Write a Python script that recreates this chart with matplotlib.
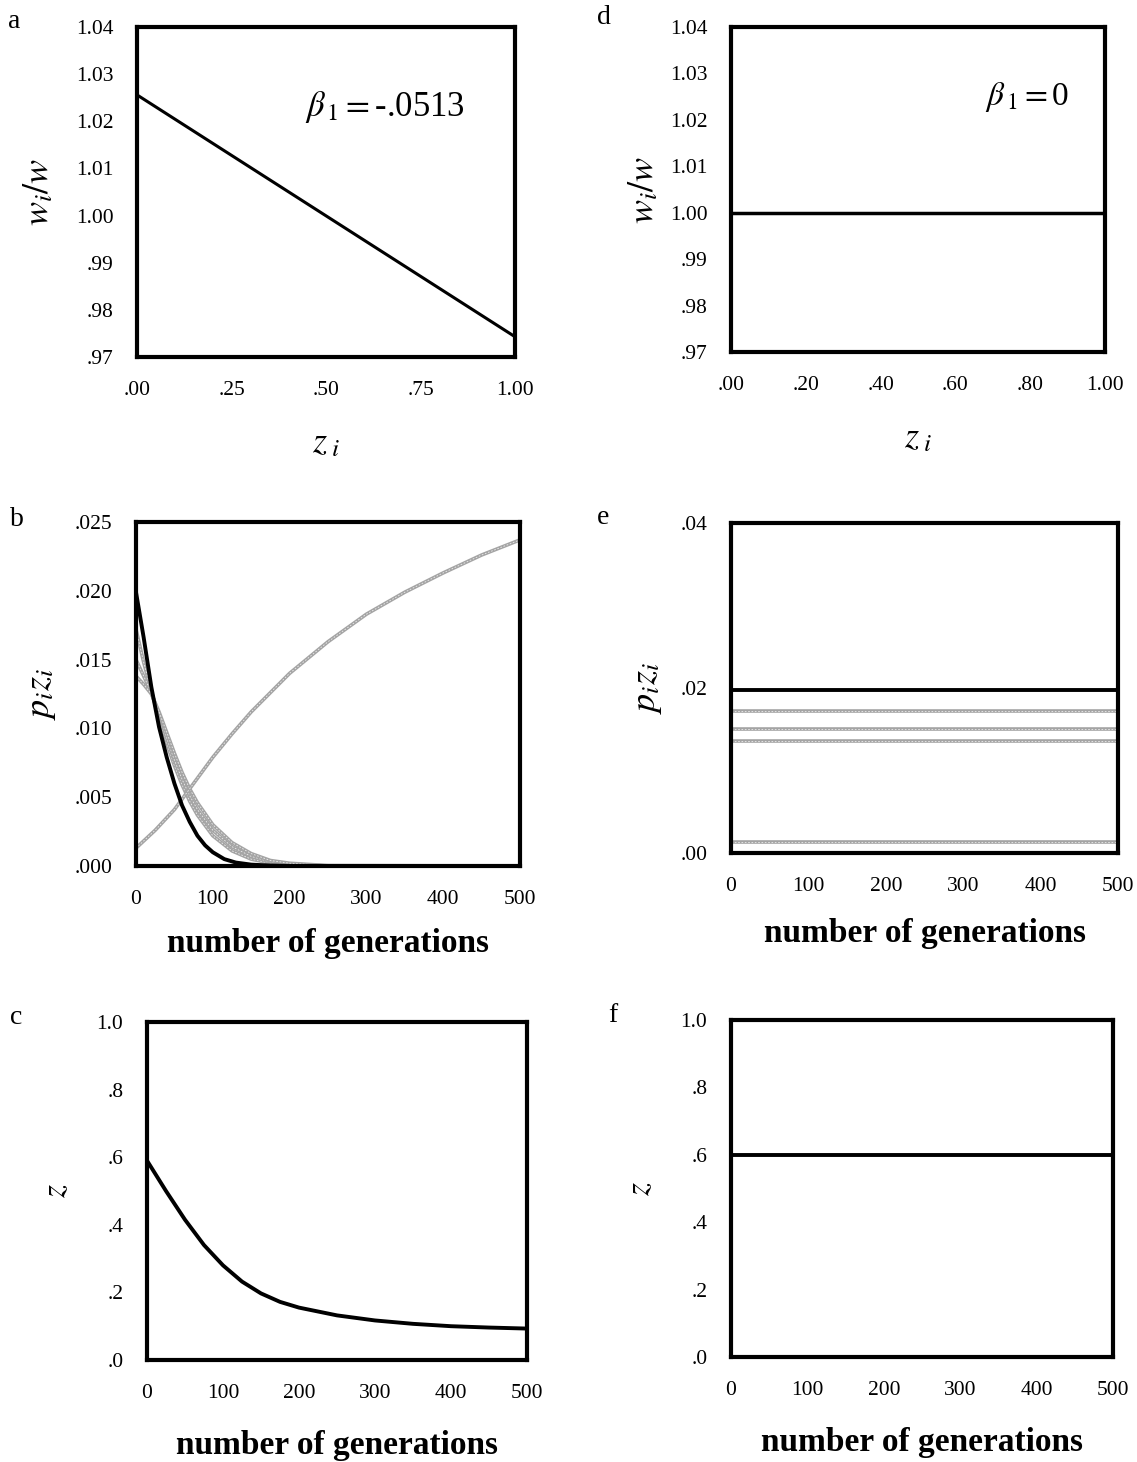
import matplotlib
matplotlib.use("Agg")
import matplotlib.pyplot as plt

plt.rcParams['font.family'] = ['Liberation Serif', 'DejaVu Serif']
plt.rcParams['mathtext.fontset'] = 'stix'

W, H = 1137, 1462

# panel a / d : relative fitness vs z_i
a_z = [0.0, 1.0]
a_w = [1.0256, 0.9743]
d_z = [0.0, 1.0]
d_w = [1.0, 1.0]
w_ticks = [0.97, 0.98, 0.99, 1.00, 1.01, 1.02, 1.03, 1.04]
w_labels = ['.97', '.98', '.99', '1.00', '1.01', '1.02', '1.03', '1.04']
a_xticks = [0.0, 0.25, 0.5, 0.75, 1.0]
a_xlabels = ['.00', '.25', '.50', '.75', '1.00']
d_xticks = [0.0, 0.2, 0.4, 0.6, 0.8, 1.0]
d_xlabels = ['.00', '.20', '.40', '.60', '.80', '1.00']

# panel b : p_i z_i over generations
b_gen_black = [0, 10, 20, 30, 40, 50, 60, 70, 80, 90, 100, 115, 130, 150, 175, 200, 500]
b_black = [0.0199, 0.0166, 0.0130, 0.0101, 0.0079, 0.0060, 0.0044, 0.0032, 0.0022, 0.0015, 0.0010,
           0.0005, 0.00025, 0.0001, 0.00003, 0.0, 0.0]
b_gen = [0, 10, 20, 30, 40, 50, 60, 70, 80, 100, 125, 150, 175, 200, 250, 500]
b_grey1 = [0.0172, 0.0148, 0.0127, 0.0107, 0.0089, 0.0073, 0.0059, 0.0047, 0.0037, 0.0022,
           0.0011, 0.0005, 0.0002, 0.0001, 0.0, 0.0]
b_grey2 = [0.0150, 0.0138, 0.0126, 0.0110, 0.0093, 0.0077, 0.0063, 0.0051, 0.0041, 0.0026,
           0.0014, 0.0007, 0.0003, 0.00015, 0.0, 0.0]
b_grey3 = [0.0138, 0.0132, 0.0125, 0.0112, 0.0097, 0.0082, 0.0068, 0.0056, 0.0046, 0.0030,
           0.0017, 0.0009, 0.0004, 0.0002, 0.00003, 0.0]
b_gen_up = [0, 25, 50, 75, 100, 125, 150, 200, 250, 300, 350, 400, 450, 500]
b_up = [0.0013, 0.0026, 0.0041, 0.0060, 0.0079, 0.0096, 0.0112, 0.0140, 0.0163, 0.0183,
        0.0199, 0.0213, 0.0226, 0.0237]
b_yticks = [0.0, 0.005, 0.010, 0.015, 0.020, 0.025]
b_ylabels = ['.000', '.005', '.010', '.015', '.020', '.025']

# panel e : constant p_i z_i
e_black = 0.0198
e_grey = [0.0172, 0.0150, 0.0136, 0.0013]
e_yticks = [0.0, 0.02, 0.04]
e_ylabels = ['.00', '.02', '.04']

# panel c / f : mean z
c_gen = [0, 25, 50, 75, 100, 125, 150, 175, 200, 250, 300, 350, 400, 450, 500]
c_z = [0.59, 0.50, 0.415, 0.34, 0.28, 0.232, 0.197, 0.172, 0.155, 0.132, 0.117, 0.107,
       0.100, 0.096, 0.093]
f_z = 0.60
z_yticks = [0.0, 0.2, 0.4, 0.6, 0.8, 1.0]
z_ylabels = ['.0', '.2', '.4', '.6', '.8', '1.0']

gen_ticks = [0, 100, 200, 300, 400, 500]
gen_labels = ['0', '100', '200', '300', '400', '500']

GREY = '#a4a4a4'

fig = plt.figure(figsize=(W / 100, H / 100), dpi=100)


def box(x0, x1, y0, y1):
    ax = fig.add_axes([x0 / W, 1 - y1 / H, (x1 - x0) / W, (y1 - y0) / H])
    for s in ax.spines.values():
        s.set_linewidth(3)
    ax.tick_params(length=0, labelsize=15.5, pad=17)
    return ax


def grey_line(ax, x, y):
    ax.plot(x, y, color=GREY, lw=2.6)
    ax.plot(x, y, color='white', lw=0.6, ls=(0, (2, 2)), alpha=0.8)


gen_font = dict(fontsize=24, fontweight='bold')

# a
ax = box(137, 515, 27, 357)
ax.plot(a_z, a_w, color='black', lw=2.2)
ax.set_xlim(0, 1)
ax.set_ylim(0.97, 1.04)
ax.set_xticks(a_xticks, a_xlabels)
ax.set_yticks(w_ticks, w_labels)
ax.text(0.445, 0.73, r'$\beta_{\,1} = $-.0513', transform=ax.transAxes, fontsize=25)
ax.set_xlabel(r'$z_{\;i}$', fontsize=26, labelpad=20)
ax.set_ylabel(r'$w_i/w$', fontsize=26, labelpad=14)
fig.text(8 / W, 1 - 22 / H, 'a', fontsize=20, va='center')

# d
ax = box(731, 1105, 27, 352)
ax.plot(d_z, d_w, color='black', lw=2.5)
ax.set_xlim(0, 1)
ax.set_ylim(0.97, 1.04)
ax.set_xticks(d_xticks, d_xlabels)
ax.set_yticks(w_ticks, w_labels)
ax.text(0.68, 0.76, r'$\beta_{\,1} = $0', transform=ax.transAxes, fontsize=24)
ax.set_xlabel(r'$z_{\;i}$', fontsize=26, labelpad=20)
ax.set_ylabel(r'$w_i/w$', fontsize=26, labelpad=6)
fig.text(597 / W, 1 - 18 / H, 'd', fontsize=20, va='center')

# b
ax = box(136, 520, 522, 866)
grey_line(ax, b_gen, b_grey1)
grey_line(ax, b_gen, b_grey2)
grey_line(ax, b_gen, b_grey3)
grey_line(ax, b_gen_up, b_up)
ax.plot(b_gen_black, b_black, color='black', lw=2.8)
ax.set_xlim(0, 500)
ax.set_ylim(0, 0.025)
ax.set_xticks(gen_ticks, gen_labels)
ax.set_yticks(b_yticks, b_ylabels)
ax.set_ylabel(r'$p_i z_i$', fontsize=26, labelpad=12)
ax.set_xlabel('number of generations', labelpad=14, **gen_font)
fig.text(10 / W, 1 - 520 / H, 'b', fontsize=20, va='center')

# e
ax = box(731, 1118, 523, 853)
ax.axhline(e_black, color='black', lw=2.8)
for v in e_grey:
    ax.axhline(v, color=GREY, lw=2.6)
    ax.axhline(v, color='white', lw=0.6, ls=(0, (2, 2)), alpha=0.8)
ax.set_xlim(0, 500)
ax.set_ylim(0, 0.04)
ax.set_xticks(gen_ticks, gen_labels)
ax.set_yticks(e_yticks, e_ylabels)
ax.set_ylabel(r'$p_i z_i$', fontsize=26, labelpad=12)
ax.set_xlabel('number of generations', labelpad=16, **gen_font)
fig.text(597 / W, 1 - 518 / H, 'e', fontsize=20, va='center')

# c
ax = box(147, 527, 1022, 1360)
ax.plot(c_gen, c_z, color='black', lw=2.8)
ax.set_xlim(0, 500)
ax.set_ylim(0, 1.0)
ax.set_xticks(gen_ticks, gen_labels)
ax.set_yticks(z_yticks, z_ylabels)
ax.set_ylabel(r'$z$', fontsize=24, labelpad=18)
ax.set_xlabel('number of generations', labelpad=20, **gen_font)
fig.text(10 / W, 1 - 1018 / H, 'c', fontsize=20, va='center')

# f
ax = box(731, 1113, 1020, 1357)
ax.axhline(f_z, color='black', lw=2.8)
ax.set_xlim(0, 500)
ax.set_ylim(0, 1.0)
ax.set_xticks(gen_ticks, gen_labels)
ax.set_yticks(z_yticks, z_ylabels)
ax.set_ylabel(r'$z$', fontsize=24, labelpad=18)
ax.set_xlabel('number of generations', labelpad=20, **gen_font)
fig.text(608 / W, 1 - 1015 / H, 'f', fontsize=20, va='center')

fig.savefig('out.png', dpi=100, facecolor='white')
